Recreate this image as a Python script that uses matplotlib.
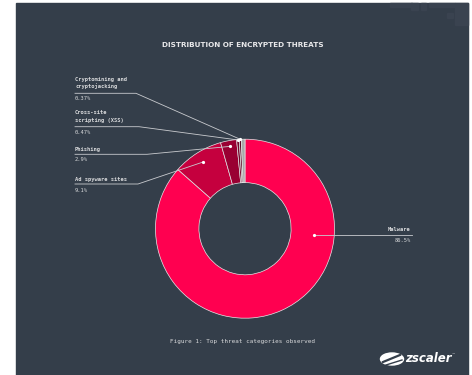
import numpy as np
import matplotlib
matplotlib.use("Agg")
from matplotlib import pyplot as plt
from matplotlib.patches import Rectangle, Ellipse

# data
categories = ["Malware", "Ad spyware sites", "Phishing",
              "Cross-site\nscripting (XSS)", "Cryptomining and\ncryptojacking", ""]
shares = [86.5, 9.1, 2.9, 0.47, 0.37, 0.66]
share_labels = ["86.5%", "9.1%", "2.9%", "0.47%", "0.37%", ""]
colors = ["#ff0050", "#c5003e", "#990032", "#75062b", "#5a0a26", "#a8a8a8"]

BG = "#343e4a"
TXT = "#d9dadc"
LINE = "#c9cbcf"

W, H = 472, 375
fig = plt.figure(figsize=(W / 100, H / 100), dpi=100)
fig.patch.set_facecolor("white")
ax = fig.add_axes([0, 0, 1, 1])
ax.set_xlim(0, W)
ax.set_ylim(0, H)
ax.axis("off")

def py(y):
    # pixel row (from top) -> data y
    return H - y

# dark panel
ax.add_patch(Rectangle((16, 0), 452, py(3), color=BG, zorder=0))
# faint decoration top-right
for x0, y0, w, h in [(390, 3, 22, 4), (411, 3, 7, 7), (421, 3, 5, 7), (429, 3, 26, 4),
                     (447, 13, 6, 5), (455, 12, 5, 10), (455, 3, 13, 22)]:
    ax.add_patch(Rectangle((x0, py(y0 + h)), w, h, color="#3a4350", zorder=0.5))

cx, cy, R = 245, py(228.7), 89.5
wedges, _ = ax.pie(shares, colors=colors, startangle=90, counterclock=False,
                   center=(cx, cy), radius=R, frame=True,
                   wedgeprops=dict(width=R * 0.485, edgecolor="#e6e6e6", linewidth=0.5))
ax.set_xlim(0, W)
ax.set_ylim(0, H)
ax.axis("off")

mono = "DejaVu Sans Mono"
fs = 3.9

# label layout: (anchor radius, elbow x, elbow y, text rows, value row)
layout = {
    1: (78.8, 138, 184, [180], 190.7),
    2: (83.7, 147, 154.3, [149], 159.5),
    3: (89.0, 139, 126.7, [113, 120.7], 132),
    4: (89.5, 136, 93.3, [79, 86.3], 98.5),
}

for i, (r, ex, ey, trows, vy) in layout.items():
    w = wedges[i]
    ang = np.deg2rad((w.theta1 + w.theta2) / 2)
    ax_x = cx + r * np.cos(ang)
    ax_y = cy + r * np.sin(ang)
    ax.plot([ax_x, ex, 75], [ax_y, py(ey), py(ey)], color=LINE, lw=0.6, zorder=5)
    ax.plot([ax_x], [ax_y], "o", color="white", ms=1.3, zorder=6)
    for line, ty in zip(categories[i].split("\n"), trows):
        ax.text(75, py(ty), line, family=mono, fontsize=fs, color=TXT,
                ha="left", va="center", weight="bold")
    ax.text(75, py(vy), share_labels[i], family=mono, fontsize=fs, color=TXT,
            ha="left", va="center")

# malware label on the right
mx, my = 314, py(235.3)
ax.plot([mx, 412], [my, my], color=LINE, lw=0.6, zorder=5)
ax.plot([mx], [my], "o", color="white", ms=1.3, zorder=6)
ax.text(411, py(229.5), categories[0], family=mono, fontsize=fs, color=TXT,
        ha="right", va="center", weight="bold")
ax.text(411, py(240.5), share_labels[0], family=mono, fontsize=fs, color=TXT,
        ha="right", va="center")

# title and caption
ax.text(243, py(45), "DISTRIBUTION OF ENCRYPTED THREATS", fontsize=5.2,
        weight="bold", color="#e8e8ea", ha="center", va="center",
        family="DejaVu Sans")
ax.text(243, py(342), "Figure 1: Top threat categories observed", family=mono,
        fontsize=4.35, color=TXT, ha="center", va="center")

# logo
ax.add_patch(Ellipse((392, py(359)), 23, 12, color="white", zorder=3))
ax.plot([383, 400], [py(362), py(355)], color=BG, lw=1.6, zorder=4)
ax.plot([386, 402], [py(365), py(360)], color=BG, lw=1.0, zorder=4)
ax.text(405, py(359), "zscaler", fontsize=8.5, color="white", weight="bold",
        style="italic", ha="left", va="center", family="DejaVu Sans")
ax.text(452, py(353), "\u2122", fontsize=2.5, color="white", ha="left", va="center")

fig.savefig("out.png", dpi=100, facecolor=fig.get_facecolor())
